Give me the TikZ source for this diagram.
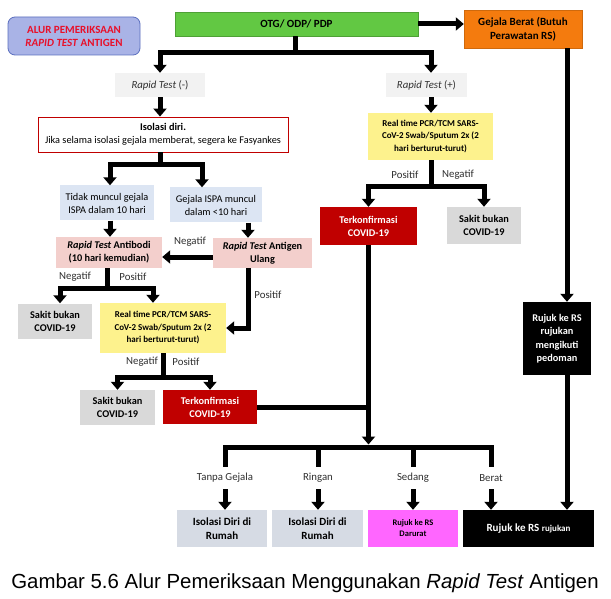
\documentclass[tikz,border=0pt]{standalone}
\usepackage{fontspec}
\setmainfont{Carlito}
\newfontfamily\capfont{Liberation Sans}
\usetikzlibrary{arrows.meta,positioning,calc}
\definecolor{ttlfill}{HTML}{A9B3E6}
\definecolor{ttlline}{HTML}{5B6FBF}
\definecolor{ttlred}{HTML}{E8102A}
\definecolor{otggreen}{HTML}{62C843}
\definecolor{sevorange}{HTML}{F47B0E}
\definecolor{rtgray}{HTML}{F2F2F2}
\definecolor{isored}{HTML}{C00000}
\definecolor{symblue}{HTML}{DCE5F3}
\definecolor{abpink}{HTML}{F3CFCC}
\definecolor{pcryellow}{HTML}{FDF28D}
\definecolor{negray}{HTML}{D9D9D9}
\definecolor{confred}{HTML}{C00000}
\definecolor{homegray}{HTML}{D6DBE4}
\definecolor{ermag}{HTML}{FF66FF}
\definecolor{lbltext}{HTML}{303030}
\newcommand{\setfs}[2]{\fontsize{#1}{#2}\selectfont}

\tikzset{
  box/.style={align=center, inner sep=1pt, font=\bfseries\setfs{10.3}{13}},
  rtbox/.style={box, fill=rtgray, minimum height=24pt, text=lbltext,
                font=\setfs{10.8}{13}},
  lbl/.style={inner sep=1pt, text=lbltext, font=\setfs{10.8}{13}},
  botlbl/.style={lbl, minimum height=22pt},
  bar/.style={line width=5pt},
  flow/.style={line width=5pt, -{Triangle[width=13pt,length=8pt]}},
  flowtwo/.style={line width=5pt,
                  {Triangle[width=13pt,length=8pt]}-{Triangle[width=13pt,length=8pt]}},
}

\begin{document}
\begin{tikzpicture}[x=1pt,y=-1pt]
  \useasboundingbox[fill=white] (0,0) rectangle (611,599);

  % title and entry
  \node[box, draw=ttlline, fill=ttlfill, line width=0.8pt, rounded corners=7pt,
        minimum width=132pt, minimum height=38pt, text=ttlred,
        font=\bfseries\setfs{11}{13}] (title) at (74,36)
        {ALUR PEMERIKSAAN\\\textit{RAPID TEST} ANTIGEN};
  \node[box, fill=otggreen, draw=otggreen!80!black, line width=0.4pt,
        minimum width=243pt, minimum height=24pt,
        font=\bfseries\setfs{11}{13}] (otg) at (296.5,24) {OTG/ ODP/ PDP};
  \node[box, fill=sevorange, draw=sevorange!85!black, line width=0.4pt,
        minimum width=118pt, minimum height=38pt,
        font=\bfseries\setfs{11}{14}] (berat) at (523,29)
        {Gejala Berat (Butuh\\Perawatan RS)};

  % rapid test results
  \node[rtbox, minimum width=90pt] (rtneg) at (160,85) {\textit{Rapid Test} (-)};
  \node[rtbox, minimum width=81pt] (rtpos) at (426.5,85) {\textit{Rapid Test} (+)};

  % negative branch
  \node[box, draw=isored, line width=0.9pt, fill=white, minimum width=250pt,
        minimum height=35pt, font=\setfs{10.3}{13}] (isolasi) at (163,134.5)
        {\textbf{Isolasi diri.}\\Jika selama isolasi gejala memberat, segera ke Fasyankes};
  \node[box, fill=symblue, minimum width=94pt, minimum height=35pt,
        font=\setfs{10.3}{13}] (tidak) at (107,203)
        {Tidak muncul gejala\\ISPA dalam 10 hari};
  \node[box, fill=symblue, minimum width=92pt, minimum height=35pt,
        font=\setfs{10.3}{13}] (ispa) at (216,205)
        {Gejala ISPA muncul\\dalam <10 hari};
  \node[box, fill=abpink, minimum width=106pt, minimum height=31pt] (antibodi)
        at (109,252.5) {\textit{Rapid Test} Antibodi\\(10 hari kemudian)};
  \node[box, fill=abpink, minimum width=99pt, minimum height=30pt] (ulang)
        at (262.5,253) {\textit{Rapid Test} Antigen\\Ulang};
  \node[box, fill=negray, minimum width=74pt, minimum height=35pt] (sakit1)
        at (55,321) {Sakit bukan\\COVID-19};
  \node[box, fill=pcryellow, minimum width=126pt, minimum height=50pt,
        font=\bfseries\setfs{9}{12.5}] (pcr2) at (163,328)
        {Real time PCR/TCM SARS-\\CoV-2 Swab/Sputum 2x (2\\hari berturut-turut)};
  \node[box, fill=negray, minimum width=75pt, minimum height=35pt] (sakit2)
        at (117.5,407.5) {Sakit bukan\\COVID-19};
  \node[box, fill=confred, text=white, minimum width=94pt, minimum height=34pt]
        (konf2) at (210,407) {Terkonfirmasi\\COVID-19};

  % positive branch
  \node[box, fill=pcryellow, minimum width=125pt, minimum height=47pt,
        font=\bfseries\setfs{9}{12.5}] (pcr1) at (430.5,136.5)
        {Real time PCR/TCM SARS-\\CoV-2 Swab/Sputum 2x (2\\hari berturut-turut)};
  \node[box, fill=confred, text=white, minimum width=97pt, minimum height=38pt]
        (konf1) at (368.5,226) {Terkonfirmasi\\COVID-19};
  \node[box, fill=negray, minimum width=74pt, minimum height=37pt] (sakit3)
        at (484,225.5) {Sakit bukan\\COVID-19};
  \node[box, fill=black, text=white, minimum width=68pt, minimum height=73pt,
        font=\bfseries\setfs{10.3}{13.5}] (rujuk) at (557,338.5)
        {Rujuk ke RS\\rujukan\\mengikuti\\pedoman};

  % outcomes
  \node[box, fill=homegray, minimum width=90pt, minimum height=37pt,
        font=\bfseries\setfs{11}{14}] (iso1) at (222,528.5) {Isolasi Diri di\\Rumah};
  \node[box, fill=homegray, minimum width=91pt, minimum height=37pt,
        font=\bfseries\setfs{11}{14}] (iso2) at (317.5,528.5) {Isolasi Diri di\\Rumah};
  \node[box, fill=ermag, minimum width=90pt, minimum height=37pt,
        font=\bfseries\setfs{8.5}{11}] (darurat) at (413,528.5) {Rujuk ke RS\\Darurat};
  \node[box, fill=black, text=white, minimum width=131pt, minimum height=37pt,
        font=\bfseries\setfs{11}{14}] (rsrujukan) at (528.5,528.5)
        {Rujuk ke RS {\setfs{9}{14}rujukan}};

  % labels
  \node[lbl] (lpos1) at (405,175) {Positif};
  \node[lbl] (lneg1) at (458,175) {Negatif};
  \node[lbl] (lneg2) at (190,242) {Negatif};
  \node[lbl] (lneg3) at (75,277) {Negatif};
  \node[lbl] (lpos3) at (133,277) {Positif};
  \node[lbl] (lpos4) at (268,295) {Positif};
  \node[lbl] (lneg5) at (142,362) {Negatif};
  \node[lbl] (lpos5) at (186,362) {Positif};
  \node[botlbl] (ltanpa) at (225,478) {Tanpa Gejala};
  \node[botlbl] (lringan) at (318,478) {Ringan};
  \node[botlbl] (lsedang) at (413,478) {Sedang};
  \node[botlbl] (lberat) at (491,478) {Berat};

  % lanes and junctions
  \coordinate (xa) at (110,0);
  \coordinate (xb) at (202,0);
  \coordinate (xc) at (248,0);
  \coordinate (xd) at (60,0);
  \coordinate (xe) at (153,0);
  \coordinate (xp) at (431,0);
  \coordinate (xr) at (567,0);
  \coordinate (nrow) at (0,257);
  \coordinate (j1) at (295,53);
  \coordinate (j2) at (160,165);
  \coordinate (j3) at (107,288);
  \coordinate (j4) at (163,377);
  \coordinate (j5) at (431,187);
  \coordinate (j6) at (368.5,447);
  \coordinate (j6tip) at (368.5,444.5);

  % connectors
  \draw[flow] (otg.east) -- (otg.east -| berat.west);
  \draw[bar] (otg.south -| j1) -- (j1);
  \draw[flowtwo] (rtneg.north) |- (j1) -| (rtpos.north -| xp);
  \draw[flow] (rtneg.south) -- (rtneg.south |- isolasi.north);
  \draw[flow] (rtpos.south -| xp) -- (pcr1.north -| xp);

  \draw[bar] (isolasi.south -| j2) -- (j2);
  \draw[flowtwo] (tidak.north -| xa) |- (j2) -| (ispa.north -| xb);
  \draw[flow] (tidak.south -| xa) -- (antibodi.north -| xa);
  \draw[flow] (ispa.south -| xc) -- (ulang.north -| xc);
  \draw[flow] (ulang.west |- nrow) -- (antibodi.east |- nrow);
  \draw[bar] (antibodi.south -| j3) -- (j3);
  \draw[flowtwo] (sakit1.north -| xd) |- (j3) -| (pcr2.north -| xe);
  \draw[flow] (ulang.south -| xc) |- (pcr2.east);
  \draw[bar] (pcr2.south) -- (j4);
  \draw[flowtwo] (sakit2.north) |- (j4) -| (konf2.north);

  \draw[bar] (pcr1.south -| j5) -- (j5);
  \draw[flowtwo] (konf1.north) |- (j5) -| (sakit3.north);
  \draw[bar] (konf2.east) -- (konf2.east -| konf1.south);
  \draw[flow] (konf1.south) -- (j6tip);
  \draw[bar] (ltanpa.north) |- (j6) -| (lberat.north);
  \draw[bar] (lringan.north) -- (lringan.north |- j6);
  \draw[bar] (lsedang.north) -- (lsedang.north |- j6);
  \draw[flow] (ltanpa.south) -- (ltanpa.south |- iso1.north);
  \draw[flow] (lringan.south) -- (lringan.south |- iso2.north);
  \draw[flow] (lsedang.south) -- (lsedang.south |- darurat.north);
  \draw[flow] (lberat.south) -- (lberat.south |- rsrujukan.north);

  \draw[flow] (berat.south -| xr) -- (rujuk.north -| xr);
  \draw[flow] (rujuk.south -| xr) -- (rsrujukan.north -| xr);

  % caption
  \node[inner sep=0pt, font=\capfont\setfs{20.4}{24}] (caption) at (305,583)
        {Gambar 5.6 Alur Pemeriksaan Menggunakan \textit{Rapid Test} Antigen};
\end{tikzpicture}
\end{document}
